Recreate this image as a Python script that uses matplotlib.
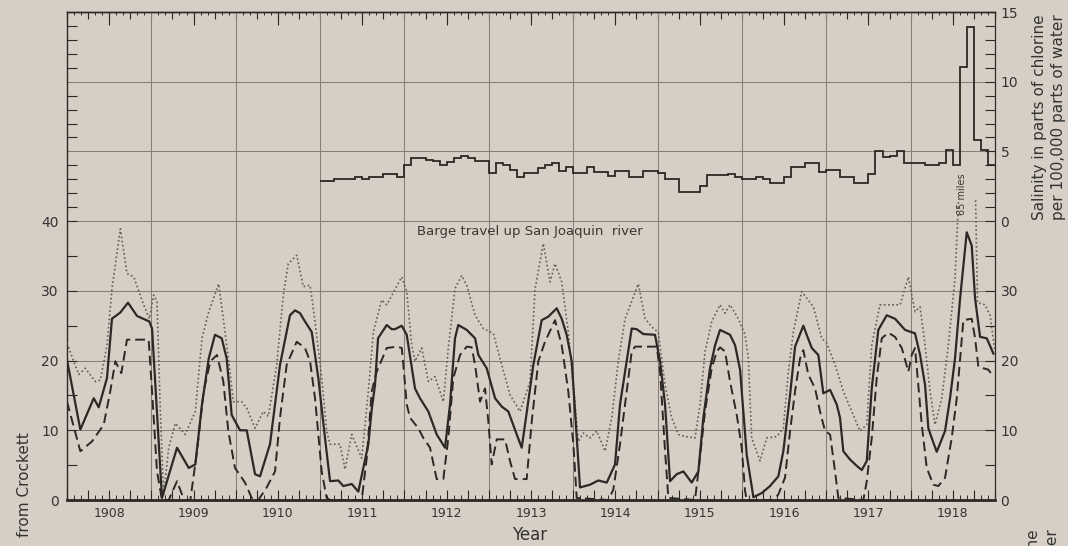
import matplotlib
matplotlib.use("Agg")
import matplotlib.pyplot as plt
import numpy as np
from matplotlib.ticker import FixedLocator, NullFormatter, FixedFormatter

# ---- Barge travel up the San Joaquin river (miles from Crockett) ----
max_year = [1908.000, 1908.139, 1908.217, 1908.335, 1908.395, 1908.474, 1908.533, 1908.632,
            1908.711, 1908.791, 1908.909, 1908.976, 1909.028, 1909.067, 1909.106, 1909.146,
            1909.206, 1909.284, 1909.402, 1909.521, 1909.600, 1909.680, 1909.798, 1909.873,
            1909.932, 1909.971, 1910.071, 1910.130, 1910.229, 1910.327, 1910.386, 1910.486,
            1910.564, 1910.623, 1910.723, 1910.801, 1910.881, 1910.940, 1911.019, 1911.078,
            1911.118, 1911.236, 1911.295, 1911.375, 1911.493, 1911.572, 1911.631, 1911.730,
            1911.790, 1911.968, 1912.027, 1912.086, 1912.125, 1912.205, 1912.283, 1912.362,
            1912.461, 1912.520, 1912.599, 1912.679, 1912.738, 1912.837, 1912.935, 1913.053,
            1913.153, 1913.251, 1913.370, 1913.488, 1913.548, 1913.646, 1913.726, 1913.785,
            1913.864, 1913.942, 1914.002, 1914.061, 1914.120, 1914.200, 1914.279, 1914.378,
            1914.457, 1914.535, 1914.615, 1914.772, 1914.852, 1914.950, 1915.009, 1915.089,
            1915.168, 1915.247, 1915.326, 1915.444, 1915.504, 1915.563, 1915.642, 1915.741,
            1915.800, 1915.859, 1915.958, 1916.037, 1916.076, 1916.116, 1916.215, 1916.294,
            1916.413, 1916.491, 1916.550, 1916.610, 1916.709, 1916.847, 1916.946, 1917.005,
            1917.104, 1917.202, 1917.302, 1917.400, 1917.480, 1917.539, 1917.637, 1917.875,
            1917.973, 1918.052, 1918.112, 1918.171, 1918.230, 1918.289, 1918.369, 1918.447,
            1918.526, 1918.568, np.nan, 1918.770, 1918.793, 1918.882, 1918.941, 1919.000]
max_miles = [22.5, 18.0, 18.9, 17.0, 17.2, 22.2, 30.3, 38.9,
             32.5, 32.0, 28.0, 26.0, 29.4, 28.4, 12.7, 0.8,
             7.5, 11.0, 9.4, 12.7, 23.2, 27.0, 31.0, 24.1,
             18.4, 14.1, 14.1, 13.2, 10.3, 12.7, 12.0, 19.4,
             29.4, 33.9, 35.1, 30.6, 30.8, 25.6, 17.5, 9.9,
             8.0, 8.0, 4.4, 9.4, 6.0, 15.6, 24.1, 28.7,
             28.0, 32.0, 29.9, 22.2, 19.9, 21.8, 17.0, 17.7,
             14.1, 21.8, 30.3, 32.2, 30.8, 26.5, 24.6, 23.9,
             19.4, 15.1, 12.7, 17.0, 30.3, 36.8, 31.3, 33.9,
             31.3, 24.1, 16.5, 8.4, 9.6, 8.9, 9.9, 7.0,
             11.8, 19.9, 26.0, 31.0, 26.0, 24.6, 24.1, 16.5,
             11.8, 9.4, 9.1, 8.9, 13.7, 21.3, 25.6, 28.0,
             26.8, 28.0, 26.0, 23.7, 20.3, 8.9, 5.6, 8.9,
             9.1, 10.3, 18.4, 24.1, 29.9, 27.7, 23.2, 22.5,
             19.4, 15.6, 12.7, 9.9, 10.8, 22.2, 28.0, 28.0,
             32.0, 27.0, 27.7, 22.2, 15.6, 10.8, 14.6, 22.2,
             31.8, 43.0, np.nan, 43.0, 28.3, 28.0, 26.5, 21.3]

mean_year = [1908.000, 1908.158, 1908.317, 1908.376, 1908.474, 1908.533, 1908.632, 1908.723,
             1908.830, 1908.976, 1909.008, 1909.126, 1909.304, 1909.443, 1909.521, 1909.600,
             1909.680, 1909.754, 1909.834, 1909.893, 1909.952, 1910.051, 1910.130, 1910.229,
             1910.288, 1910.406, 1910.525, 1910.643, 1910.703, 1910.762, 1910.821, 1910.901,
             1910.979, 1911.058, 1911.118, 1911.216, 1911.275, 1911.375, 1911.453, 1911.572,
             1911.612, 1911.651, 1911.687, 1911.790, 1911.849, 1911.888, 1911.968, 1912.027,
             1912.125, 1912.184, 1912.283, 1912.382, 1912.481, 1912.540, 1912.599, 1912.638,
             1912.738, 1912.837, 1912.876, 1912.975, 1913.074, 1913.153, 1913.231, 1913.331,
             1913.390, 1913.429, 1913.528, 1913.627, 1913.705, 1913.805, 1913.864, 1913.923,
             1913.983, 1914.022, 1914.081, 1914.200, 1914.298, 1914.398, 1914.496, 1914.555,
             1914.615, 1914.694, 1914.753, 1914.832, 1914.970, 1915.030, 1915.089, 1915.148,
             1915.227, 1915.306, 1915.405, 1915.484, 1915.543, 1915.622, 1915.682, 1915.741,
             1915.859, 1915.919, 1915.978, 1916.057, 1916.136, 1916.235, 1916.333, 1916.432,
             1916.491, 1916.571, 1916.630, 1916.728, 1916.768, 1916.828, 1916.906, 1916.965,
             1917.045, 1917.124, 1917.163, 1917.202, 1917.282, 1917.361, 1917.421, 1917.480,
             1917.539, 1917.617, 1917.717, 1917.815, 1917.934, 1918.052, 1918.112, 1918.171,
             1918.210, 1918.250, 1918.309, 1918.408, 1918.467, 1918.526, 1918.586, 1918.665,
             1918.724, 1918.764, 1918.823, 1918.902, 1918.981]
mean_miles = [20.1, 10.1, 14.6, 13.3, 17.5, 26.0, 26.9, 28.3,
              26.4, 25.6, 24.6, 0.3, 7.5, 4.6, 5.1, 13.7,
              20.3, 23.7, 23.2, 20.3, 12.2, 10.0, 10.0, 3.7,
              3.4, 8.0, 19.4, 26.5, 27.2, 26.8, 25.6, 24.1,
              17.5, 8.9, 2.7, 2.8, 2.0, 2.3, 1.2, 8.0,
              13.0, 16.5, 23.2, 25.1, 24.5, 24.5, 25.0, 23.7,
              16.0, 14.6, 12.7, 9.4, 7.5, 13.7, 23.2, 25.1,
              24.4, 23.2, 20.8, 18.9, 14.6, 13.4, 12.7, 9.4,
              7.5, 10.8, 19.4, 25.8, 26.3, 27.5, 26.0, 23.7,
              19.9, 12.7, 1.8, 2.2, 2.8, 2.5, 5.1, 13.7,
              18.4, 24.6, 24.5, 23.8, 23.7, 19.9, 13.7, 2.7,
              3.7, 4.1, 2.5, 4.1, 11.8, 18.9, 22.2, 24.4,
              23.7, 22.2, 18.7, 6.5, 0.4, 1.0, 2.0, 3.4,
              7.0, 15.1, 22.0, 25.0, 23.7, 21.8, 20.8, 15.3,
              15.8, 13.7, 11.8, 7.0, 5.8, 4.9, 4.3, 5.6,
              16.0, 24.4, 26.5, 26.0, 24.4, 23.9, 20.8, 16.5,
              10.3, 8.9, 6.9, 9.9, 14.6, 20.3, 28.9, 38.4,
              36.5, 28.9, 23.4, 23.2, 21.0]

min_year = [1908.000, 1908.158, 1908.296, 1908.435, 1908.513, 1908.573, 1908.644, 1908.711,
            1908.968, 1909.008, 1909.067, 1909.126, 1909.206, 1909.304, 1909.363, 1909.402,
            1909.462, 1909.541, 1909.620, 1909.699, 1909.778, 1909.853, 1909.912, 1909.991,
            1910.110, 1910.189, 1910.268, 1910.367, 1910.466, 1910.525, 1910.604, 1910.723,
            1910.821, 1910.881, 1910.940, 1911.019, 1911.078, 1911.118, 1911.493, 1911.553,
            1911.612, 1911.671, 1911.790, 1911.908, 1911.968, 1911.987, 1912.027, 1912.066,
            1912.164, 1912.224, 1912.303, 1912.382, 1912.461, 1912.520, 1912.579, 1912.659,
            1912.738, 1912.797, 1912.837, 1912.896, 1912.955, 1912.994, 1913.034, 1913.094,
            1913.192, 1913.251, 1913.311, 1913.449, 1913.509, 1913.587, 1913.666, 1913.785,
            1913.864, 1913.942, 1914.002, 1914.042, 1914.417, 1914.476, 1914.555, 1914.615,
            1914.694, 1914.733, 1914.990, 1915.030, 1915.089, 1915.128, 1915.444, 1915.484,
            1915.563, 1915.642, 1915.702, 1915.741, 1915.800, 1915.859, 1915.939, 1915.998,
            1916.037, 1916.057, 1916.373, 1916.432, 1916.511, 1916.571, 1916.630, 1916.689,
            1916.728, 1916.787, 1916.867, 1916.926, 1916.985, 1917.045, 1917.104, 1917.143,
            1917.440, 1917.480, 1917.539, 1917.598, 1917.658, 1917.736, 1917.815, 1917.895,
            1917.973, 1918.013, 1918.052, 1918.091, 1918.132, 1918.191, 1918.269, 1918.328,
            1918.408, 1918.487, 1918.547, 1918.625, 1918.724, 1918.764, 1918.803, 1918.921,
            1918.981]
min_miles = [14.1, 7.0, 8.4, 10.8, 15.6, 19.9, 18.2, 23.0,
             23.0, 15.6, 4.1, 0.0, 0.0, 2.7, 0.8, 0.0,
             0.0, 7.0, 15.6, 19.9, 20.8, 17.0, 9.9, 4.6,
             2.5, 0.3, 0.0, 1.8, 4.1, 11.8, 19.4, 22.7,
             21.8, 19.9, 14.6, 4.1, 0.3, 0.0, 0.0, 6.0,
             15.6, 18.4, 21.8, 22.0, 21.8, 19.4, 13.7, 11.8,
             10.3, 8.9, 7.5, 3.0, 3.0, 8.9, 17.5, 20.8,
             22.0, 21.9, 19.4, 14.1, 16.0, 11.3, 5.1, 8.7,
             8.7, 5.6, 3.0, 3.0, 11.3, 19.9, 22.7, 25.8,
             22.2, 15.6, 8.0, 0.3, 0.0, 1.5, 8.0, 13.7,
             21.3, 22.0, 22.0, 18.4, 7.0, 0.3, 0.0, 4.1,
             12.7, 18.9, 21.3, 21.9, 21.3, 17.0, 12.2, 7.5,
             1.3, 0.0, 0.0, 0.8, 3.2, 9.9, 15.6, 20.3,
             21.5, 18.0, 16.0, 12.7, 9.9, 9.4, 4.1, 0.3,
             0.0, 2.7, 8.9, 17.5, 23.2, 24.0, 23.4, 21.8,
             18.4, 20.8, 21.8, 16.5, 10.8, 4.6, 2.2, 2.0,
             3.2, 8.9, 14.6, 25.8, 26.0, 23.2, 19.1, 18.7,
             17.7]

# ---- Monthly salinity, parts of chlorine per 100,000 parts of water (1911-1918) ----
salinity_start = 1911
salinity = [2.9, 2.9, 3.0, 3.0, 3.0, 3.15, 3.05, 3.2, 3.2, 3.35, 3.35, 3.2,
            4.05, 4.5, 4.5, 4.4, 4.3, 4.05, 4.25, 4.5, 4.65, 4.5, 4.3, 4.3,
            3.45, 4.2, 4.0, 3.7, 3.15, 3.45, 3.45, 3.8, 4.05, 4.2, 3.6, 3.9,
            3.45, 3.45, 3.85, 3.5, 3.5, 3.25, 3.6, 3.6, 3.2, 3.2, 3.6, 3.6,
            3.45, 3.05, 3.05, 2.1, 2.1, 2.1, 2.55, 3.3, 3.3, 3.3, 3.4, 3.2,
            3.05, 3.05, 3.2, 3.0, 2.7, 2.7, 3.2, 3.9, 3.9, 4.15, 4.15, 3.5,
            3.7, 3.7, 3.2, 3.2, 2.75, 2.75, 3.4, 5.05, 4.6, 4.7, 5.05, 4.15,
            4.15, 4.15, 4.05, 4.0, 4.2, 5.1, 4.05, 11.05, 13.9, 5.8, 5.1, 4.05]

# axis labels
miles_ticks = [0, 10, 20, 30, 40]
salinity_ticks = [0, 5, 10, 15]
year_labels = list(range(1908, 1919))

# salinity is drawn in the upper band: 0 sits at 40 miles, 5 units per 10 miles
SAL_BASE = 40
SAL_SCALE = 2

BG = "#d7cfc5"
INK = "#2c2825"
GRID = "#857f77"

fig = plt.figure(figsize=(10.68, 5.46), dpi=100, facecolor=BG)
ax = fig.add_axes([67 / 1068, 1 - 500 / 546, 928 / 1068, 488 / 546])
ax.set_facecolor(BG)
x0, x1 = year_labels[0], year_labels[-1] + 1
ax.set_xlim(x0, x1)
ax.set_ylim(0, 70)

# grid
for yr in range(x0 + 1, x1):
    ax.axvline(yr, color=GRID, lw=0.75, zorder=1)
for gy in range(10, 70, 10):
    ax.axhline(gy, color=GRID, lw=0.75, zorder=1)

# barge travel curves
ax.plot(max_year, max_miles, ls=(0, (1, 1.5)), lw=1.2, color="#635d57", zorder=3)
ax.plot(mean_year, mean_miles, ls="-", lw=1.6, color=INK, zorder=4, solid_joinstyle="round")
ax.plot(min_year, min_miles, ls=(0, (5, 2.6)), lw=1.4, color=INK, zorder=3)

# salinity steps
sal = np.asarray(salinity)
edges = salinity_start + np.arange(len(sal) + 1) / 12
ax.stairs(SAL_BASE + SAL_SCALE * sal, edges, baseline=None, color=INK, lw=1.3, zorder=4)

ax.text(1912.15, 38.5, "Barge travel up San Joaquin  river", fontsize=9.5,
        color="#3a3632", ha="left", va="center")
ax.text(1918.61, 43.9, "65 miles", fontsize=7, rotation=90, color="#3a3632",
        ha="center", va="center")

# spines
for side, lw in (("left", 1.0), ("bottom", 2.0), ("top", 1.0), ("right", 0.8)):
    ax.spines[side].set_linewidth(lw)
    ax.spines[side].set_color(INK)

# x ticks: months, quarters; year names at mid-year
quarters = np.arange(x0, x1 + 0.001, 0.25)
months = np.arange(x0, x1 + 0.001, 1 / 12)
qlabels = [str(int(q)) if abs(q - int(q) - 0.5) < 1e-6 else "" for q in quarters]
ax.xaxis.set_major_locator(FixedLocator(quarters))
ax.xaxis.set_major_formatter(FixedFormatter(qlabels))
ax.xaxis.set_minor_locator(FixedLocator(months))
ax.tick_params(axis="x", which="major", direction="in", length=7, width=0.8,
               color=INK, labelsize=9, labelcolor="#333", pad=5)
ax.tick_params(axis="x", which="minor", direction="in", length=3.5, width=0.7, color=INK)

top1 = ax.secondary_xaxis("top")
top1.xaxis.set_major_locator(FixedLocator(quarters))
top1.xaxis.set_minor_locator(FixedLocator(months))
top1.xaxis.set_major_formatter(NullFormatter())
top1.tick_params(axis="x", which="major", direction="in", length=5, width=0.8, color=INK)
top1.tick_params(axis="x", which="minor", direction="in", length=2.5, width=0.7, color=INK)
top1.spines["top"].set_linewidth(1.0)
top1.spines["top"].set_color(INK)
top2 = ax.secondary_xaxis("top")
top2.xaxis.set_major_locator(FixedLocator(np.arange(x0 + 0.5, x1, 1.0)))
top2.xaxis.set_major_formatter(NullFormatter())
top2.tick_params(axis="x", which="major", direction="in", length=9, width=0.8, color=INK)
top2.spines["top"].set_visible(False)

# left y: miles
upper_minor = [SAL_BASE + SAL_SCALE * s for s in range(1, 15) if s % 5]
ax.yaxis.set_major_locator(FixedLocator(miles_ticks))
ax.yaxis.set_minor_locator(FixedLocator([5, 15, 25, 35] + upper_minor))
ax.tick_params(axis="y", which="major", direction="in", length=7, width=0.8,
               color=INK, labelsize=10, labelcolor="#333", pad=6)
ax.tick_params(axis="y", which="minor", direction="in", length=7, width=0.8, color=INK)

# right y: miles below, salinity above
rax = ax.twinx()
rax.set_ylim(0, 70)
rpos = miles_ticks[:-1] + [SAL_BASE + SAL_SCALE * s for s in salinity_ticks]
rlab = [str(v) for v in miles_ticks[:-1]] + [str(s) for s in salinity_ticks]
rax.yaxis.set_major_locator(FixedLocator(rpos))
rax.yaxis.set_major_formatter(FixedFormatter(rlab))
rax.yaxis.set_minor_locator(FixedLocator([5, 15, 25, 35] + upper_minor))
rax.tick_params(axis="y", which="major", direction="in", length=7, width=0.8,
                color=INK, labelsize=10, labelcolor="#333", pad=4)
rax.tick_params(axis="y", which="minor", direction="in", length=7, width=0.8, color=INK)
for side in ("left", "top", "bottom"):
    rax.spines[side].set_visible(False)
rax.spines["right"].set_linewidth(0.8)
rax.spines["right"].set_color(INK)

sal_label = "Salinity in parts of chlorine\nper 100,000 parts of water"
fig.text(1049 / 1068, 1 - 117 / 546, sal_label, rotation=90, fontsize=11,
         ha="center", va="center", linespacing=1.4, color="#333", multialignment="center")
fig.text(1043 / 1068, 1 - 632 / 546, sal_label, rotation=90, fontsize=11,
         ha="center", va="center", linespacing=1.4, color="#333", multialignment="center")
fig.text(25 / 1068, 1 - 485 / 546, "from Crockett", rotation=90, fontsize=11,
         ha="center", va="center", color="#333")
fig.text(530 / 1068, 1 - 535 / 546, "Year", fontsize=12, ha="center", va="center", color="#333")

fig.savefig("out.png", dpi=100, facecolor=BG)
